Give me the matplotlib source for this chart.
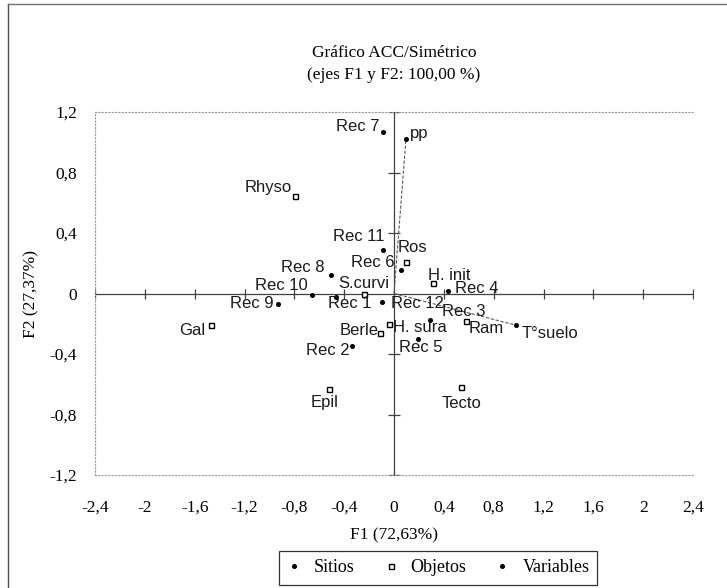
import matplotlib.pyplot as plt
from matplotlib.lines import Line2D

sitios = ['Rec 1', 'Rec 2', 'Rec 3', 'Rec 4', 'Rec 5', 'Rec 6',
          'Rec 7', 'Rec 8', 'Rec 9', 'Rec 10', 'Rec 11', 'Rec 12']
sitios_f1 = [-0.465, -0.34, 0.29, 0.43, 0.19, 0.056, -0.09, -0.506, -0.93, -0.66, -0.09, -0.096]
sitios_f2 = [-0.02, -0.35, -0.176, 0.014, -0.30, 0.156, 1.07, 0.122, -0.068, -0.01, 0.29, -0.054]

objetos = ['Rhyso', 'Ros', 'S.curvi', 'H. init', 'Ram', 'Gal', 'Epil', 'Tecto', 'Berle', 'H. sura']
objetos_f1 = [-0.795, 0.096, -0.24, 0.31, 0.58, -1.47, -0.52, 0.54, -0.11, -0.04]
objetos_f2 = [0.644, 0.21, 0.0, 0.068, -0.18, -0.21, -0.63, -0.62, -0.26, -0.20]

variables = ['pp', 'T°suelo']
variables_f1 = [0.096, 0.98]
variables_f2 = [1.02, -0.21]

ticks_x = [-2.4, -2, -1.6, -1.2, -0.8, -0.4, 0, 0.4, 0.8, 1.2, 1.6, 2, 2.4]
ticks_y = [-1.2, -0.8, -0.4, 0, 0.4, 0.8, 1.2]

# posición de las etiquetas (px) y alineación
etiquetas = {
    'Rec 7': (-3, 5, 'right'), 'pp': (4, 6, 'left'), 'Rhyso': (-3, 9, 'right'),
    'Rec 11': (2, 13, 'right'), 'Ros': (-8, 14, 'left'), 'Rec 6': (-6, 7, 'right'),
    'Rec 8': (-6, 8, 'right'), 'S.curvi': (0, 10, 'center'), 'Rec 10': (-4, 10, 'right'),
    'Rec 9': (-5, 0, 'right'), 'Rec 1': (-8, -7, 'left'), 'Rec 12': (9, -2, 'left'),
    'H. init': (-5, 8, 'left'), 'Rec 4': (7, 3, 'left'), 'Rec 3': (12, 9, 'left'),
    'Ram': (2, -8, 'left'), 'T°suelo': (6, -8, 'left'), 'H. sura': (4, -4, 'left'),
    'Berle': (-2, 2, 'right'), 'Rec 5': (3, -9, 'center'), 'Rec 2': (-2, -4, 'right'),
    'Gal': (-6, -5, 'right'), 'Epil': (-5, -14, 'center'), 'Tecto': (0, -16, 'center'),
}

def fmt(v):
    s = f'{v:g}'.replace('.', ',')
    return s

fig = plt.figure(figsize=(7.27, 5.88), dpi=100)
ax = fig.add_axes([95 / 727, 1 - 475 / 588, 598 / 727, 363 / 588])
ax.set_xlim(-2.4, 2.4)
ax.set_ylim(-1.2, 1.2)

# marco punteado del área de trazado
for lado in ['left', 'top', 'bottom']:
    ax.spines[lado].set_linestyle((0, (1, 2)))
    ax.spines[lado].set_color('0.6')
    ax.spines[lado].set_linewidth(0.8)
ax.spines['right'].set_visible(False)

# ejes cruzados en el origen con marcas
ax.plot([-2.4, 2.4], [0, 0], color='0.25', lw=0.9, zorder=2)
ax.plot([0, 0], [-1.2, 1.2], color='0.25', lw=0.9, zorder=2)
ax.plot([t for t in ticks_x if t != 0], [0] * (len(ticks_x) - 1), '|',
        color='0.25', ms=7, mew=0.9, zorder=2)
ax.plot([0] * (len(ticks_y) - 1), [t for t in ticks_y if t != 0], '_',
        color='0.25', ms=8, mew=0.9, zorder=2)

# vectores de variables
for x, y in zip(variables_f1, variables_f2):
    ax.plot([0, x], [0, y], color='0.35', lw=0.8, linestyle=(0, (3, 1.5)), zorder=2)

ax.plot(sitios_f1, sitios_f2, 'o', color='black', ms=2.6, zorder=4, linestyle='none')
ax.plot(objetos_f1, objetos_f2, 's', mfc='white', mec='black', ms=3.6, mew=1.0,
        zorder=4, linestyle='none')
ax.plot(variables_f1, variables_f2, 'o', color='black', ms=2.6, zorder=4, linestyle='none')

nombres = sitios + objetos + variables
xs = sitios_f1 + objetos_f1 + variables_f1
ys = sitios_f2 + objetos_f2 + variables_f2
for n, x, y in zip(nombres, xs, ys):
    dx, dy, ha = etiquetas[n]
    ax.annotate(n, (x, y), xytext=(dx, dy), textcoords='offset pixels',
                ha=ha, va='center', fontsize=12, family='Liberation Sans',
                color='#1a1a1a', zorder=5)

ax.set_xticks(ticks_x)
ax.set_xticklabels([fmt(t) for t in ticks_x])
ax.set_yticks(ticks_y)
ax.set_yticklabels([fmt(t) for t in ticks_y])
ax.tick_params(length=0, labelsize=12.5)
ax.tick_params(axis='x', pad=18)
ax.tick_params(axis='y', pad=13)
for lb in ax.get_xticklabels() + ax.get_yticklabels():
    lb.set_family('Liberation Serif')

ax.set_xlabel('F1 (72,63%)', family='Liberation Serif', fontsize=12.5)
ax.xaxis.set_label_coords(0.5, -(527 - 475) / 363)
ax.set_ylabel('F2 (27,37%)', family='Liberation Serif', fontsize=12.5)
ax.yaxis.set_label_coords(-(95 - 39) / 598, 0.5)

fig.text(394 / 727, 1 - 53 / 588, 'Gráfico ACC/Simétrico', ha='center', va='center',
         family='Liberation Serif', fontsize=12.5)
fig.text(394 / 727, 1 - 75 / 588, '(ejes F1 y F2: 100,00 %)', ha='center', va='center',
         family='Liberation Serif', fontsize=12.5)

# leyenda
h = [Line2D([], [], marker='o', color='black', ms=2.6, linestyle='none'),
     Line2D([], [], marker='s', mfc='white', mec='black', ms=3.6, linestyle='none'),
     Line2D([], [], marker='o', color='black', ms=2.6, linestyle='none')]
leg = fig.legend(h, ['Sitios', 'Objetos', 'Variables'], loc='center',
                 bbox_to_anchor=(438 / 727, 1 - 568 / 588), ncol=3, frameon=True,
                 fancybox=False, edgecolor='black', handlelength=0.8, handletextpad=0.7,
                 columnspacing=1.6, borderpad=0.45, borderaxespad=0,
                 prop={'family': 'Liberation Serif', 'size': 13})
leg.get_frame().set_linewidth(0.9)

# borde exterior (izquierda y arriba)
fig.add_artist(Line2D([8 / 727, 8 / 727], [0, 1 - 4 / 588], color='0.3', lw=1.0,
                      transform=fig.transFigure))
fig.add_artist(Line2D([8 / 727, 1], [1 - 4 / 588, 1 - 4 / 588], color='0.45', lw=1.0,
                      transform=fig.transFigure))

fig.savefig('out.png', dpi=100)
